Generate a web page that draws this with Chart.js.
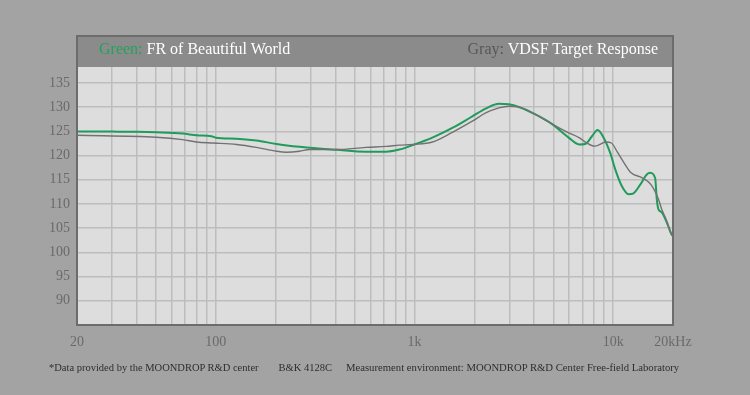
<!DOCTYPE html>
<html>
<head>
<meta charset="utf-8">
<script src="https://cdn.jsdelivr.net/npm/chart.js@4/dist/chart.umd.min.js"></script>
<style>
  html, body { margin: 0; padding: 0; background: #a3a3a3; }
  #wrap { position: relative; width: 750px; height: 395px; overflow: hidden; }
  canvas { position: absolute; left: 0; top: 0; }
  .hdr { position: absolute; top: 40px; font: 16px "Liberation Serif", serif; color: #fff; white-space: nowrap; }
  #hdr-left { left: 99px; }
  #hdr-right { right: 92px; }
  .green { color: #22a35c; }
  .gray { color: #585858; }
  #foot { position: absolute; left: 49px; top: 361px; font: 10.5px "Liberation Serif", serif; color: #2e2e2e; white-space: nowrap; }
  #foot .s1 { margin-right: 20px; }
  #foot .s2 { margin-right: 14px; }
  #foot .s3 { font-size: 10.7px; }
</style>
</head>
<body>
<div id="wrap">
  <canvas id="chart" width="750" height="395"></canvas>
  <div class="hdr" id="hdr-left"><span class="green">Green:</span> FR of Beautiful World</div>
  <div class="hdr" id="hdr-right"><span class="gray">Gray:</span> VDSF Target Response</div>
  <div id="foot"><span class="s1">*Data provided by the MOONDROP R&amp;D center</span><span class="s2">B&amp;K 4128C</span><span class="s3">Measurement environment: MOONDROP R&amp;D Center Free-field Laboratory</span></div>
</div>
<script>
// FR of Beautiful World (green)
const frFreq = [20, 30, 40, 50, 68, 80, 95, 100, 127, 160, 202, 264, 296, 403, 570, 719, 838, 977, 1230, 1550, 1954, 2280, 2660, 2986, 3350, 4060, 4930, 5970, 6730, 7240, 7820, 8350, 8950, 9670, 10250, 11050, 11950, 12660, 13680, 14760, 15350, 16270, 16570, 16900, 17550, 18600, 19570, 20000];
const frDb = [125.0, 124.95, 124.9, 124.8, 124.55, 124.2, 124.0, 123.7, 123.5, 123.1, 122.4, 121.8, 121.6, 121.2, 120.8, 120.8, 121.25, 122.15, 123.7, 125.7, 128.1, 129.7, 130.7, 130.6, 130.05, 128.5, 126.5, 123.7, 122.3, 122.4, 124.0, 125.3, 123.7, 120.5, 117.1, 113.7, 112.0, 112.2, 114.0, 116.1, 116.45, 115.3, 111.0, 108.9, 108.3, 106.2, 103.9, 103.3];

// VDSF target response (gray)
const tgFreq = [20, 50, 68, 80, 97, 127, 160, 202, 226, 264, 296, 403, 570, 719, 838, 977, 1230, 1550, 1954, 2280, 2660, 2986, 3350, 4060, 4930, 5970, 6730, 7240, 8100, 9200, 9800, 10500, 11300, 12300, 14000, 15500, 16900, 17550, 18600, 19570, 20000];
const tgDb = [124.2, 123.8, 123.3, 122.8, 122.6, 122.3, 121.7, 120.9, 120.7, 120.9, 121.25, 121.25, 121.7, 121.9, 122.15, 122.3, 122.8, 124.8, 127.1, 128.8, 129.85, 130.2, 130.05, 128.5, 126.5, 124.7, 123.7, 122.8, 121.95, 122.8, 122.6, 120.7, 118.6, 116.45, 115.4, 114.0, 111.0, 108.9, 106.5, 103.9, 103.3];

const xGrid = [20, 30, 40, 50, 60, 70, 80, 90, 100, 200, 300, 400, 500, 600, 700, 800, 900, 1000, 2000, 3000, 4000, 5000, 6000, 7000, 8000, 9000, 10000, 20000];
const xTickValues = [20, 100, 1000, 10000, 20000];
const xTickLabels = ['20', '100', '1k', '10k', '20kHz'];
const yTicks = [90, 95, 100, 105, 110, 115, 120, 125, 130, 135];

const toPoints = (fs, vs) => fs.map((f, i) => ({ x: f, y: vs[i] }));

const framePlugin = {
  id: 'frame',
  beforeDraw(c) {
    const { ctx, chartArea: a } = c;
    ctx.save();
    ctx.fillStyle = '#8b8b8b';
    ctx.fillRect(a.left, 36, a.right - a.left, a.top - 36);
    ctx.fillStyle = '#dcdddc';
    ctx.fillRect(a.left, a.top, a.right - a.left, a.bottom - a.top);
    ctx.restore();
  },
  afterDraw(c) {
    const { ctx, chartArea: a } = c;
    ctx.save();
    ctx.strokeStyle = '#6c6c6c';
    ctx.lineWidth = 2;
    ctx.strokeRect(a.left, 36, a.right - a.left, a.bottom - 36);
    ctx.restore();
  }
};

new Chart(document.getElementById('chart'), {
  type: 'line',
  data: {
    datasets: [
      {
        label: 'VDSF Target Response',
        data: toPoints(tgFreq, tgDb),
        borderColor: '#727272',
        borderWidth: 1.4,
        pointRadius: 0,
        cubicInterpolationMode: 'monotone',
        fill: false,
      },
      {
        label: 'FR of Beautiful World',
        data: toPoints(frFreq, frDb),
        borderColor: '#1f9b5c',
        borderWidth: 2,
        pointRadius: 0,
        cubicInterpolationMode: 'monotone',
        fill: false,
      }
    ]
  },
  options: {
    responsive: false,
    animation: false,
    devicePixelRatio: 1,
    layout: { padding: { top: 67, right: 77, left: 0, bottom: 0 } },
    plugins: { legend: { display: false }, tooltip: { enabled: false } },
    scales: {
      x: {
        type: 'logarithmic',
        min: 20,
        max: 20000,
        afterBuildTicks: (s) => { s.ticks = xGrid.map(v => ({ value: v })); },
        afterFit: (s) => { s.height = 70; },
        grid: { color: '#bdbdbd', lineWidth: 1.5, drawTicks: false },
        border: { display: false },
        ticks: {
          autoSkip: false,
          maxRotation: 0,
          padding: 9,
          color: '#6a6a6a',
          font: { family: 'Liberation Serif', size: 14 },
          callback: (v) => {
            const i = xTickValues.indexOf(v);
            return i >= 0 ? xTickLabels[i] : '';
          }
        }
      },
      y: {
        min: 85,
        max: 138.3,
        afterBuildTicks: (s) => { s.ticks = yTicks.map(v => ({ value: v })); },
        afterFit: (s) => { s.width = 77; },
        grid: { color: '#bdbdbd', lineWidth: 1.5, drawTicks: false },
        border: { display: false },
        ticks: {
          padding: 7,
          color: '#6a6a6a',
          font: { family: 'Liberation Serif', size: 14 }
        }
      }
    }
  },
  plugins: [framePlugin]
});
</script>
</body>
</html>
